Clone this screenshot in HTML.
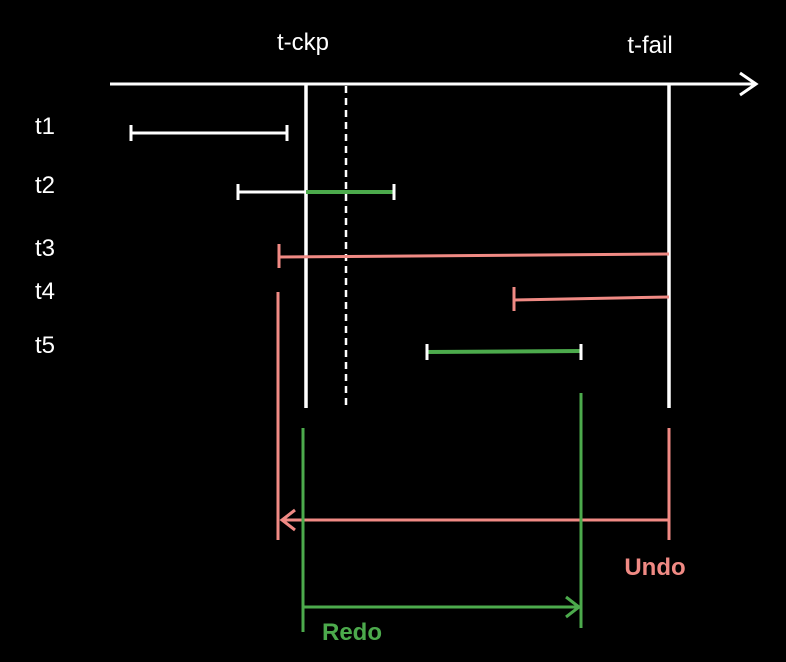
<!DOCTYPE html>
<html><head><meta charset="utf-8"><style>
html,body{margin:0;padding:0;background:#000;}
svg{display:block;}
text{font-family:"Liberation Sans",sans-serif;}
</style></head><body>
<svg id="chart" width="786" height="662" viewBox="0 0 786 662">
  <rect width="786" height="662" fill="#000"/>
  <g>
    <line x1="110" y1="84" x2="754" y2="84" stroke="#fff" stroke-width="3"/>
    <polyline points="740,73 756,84 740,95" fill="none" stroke="#fff" stroke-width="3"/>
  </g>
  <text x="303" y="50" font-size="24" fill="#fff" text-anchor="middle">t-ckp</text>
  <text x="650" y="53" font-size="24" fill="#fff" text-anchor="middle">t-fail</text>
  <line x1="306" y1="84" x2="306" y2="408" stroke="#fff" stroke-width="3.5"/>
  <line x1="346" y1="86" x2="346" y2="408" stroke="#fff" stroke-width="2.5" stroke-dasharray="7,5"/>
  <line x1="669" y1="84" x2="669" y2="408" stroke="#fff" stroke-width="3.5"/>
  <g id="txs"></g>
  <g>
    <line x1="278" y1="292" x2="278" y2="540" stroke="#f08a84" stroke-width="3"/>
    <line x1="669" y1="428" x2="669" y2="540" stroke="#f08a84" stroke-width="3"/>
    <line x1="282" y1="520" x2="669" y2="520" stroke="#f08a84" stroke-width="3"/>
    <polyline points="295,510 282,520 295,530" fill="none" stroke="#f08a84" stroke-width="3"/>
    <text x="655" y="575" font-size="24" font-weight="bold" fill="#f08a84" text-anchor="middle">Undo</text>
  </g>
  <g>
    <line x1="303" y1="428" x2="303" y2="632" stroke="#4caa4c" stroke-width="3"/>
    <line x1="581" y1="393" x2="581" y2="628" stroke="#4caa4c" stroke-width="3"/>
    <line x1="303" y1="607" x2="579" y2="607" stroke="#4caa4c" stroke-width="3"/>
    <polyline points="566,597 579,607 566,617" fill="none" stroke="#4caa4c" stroke-width="3"/>
    <text x="352" y="640" font-size="24" font-weight="bold" fill="#4caa4c" text-anchor="middle">Redo</text>
  </g>
</svg>
<script>
const txNames = ["t1","t2","t3","t4","t5"];
const txRowY = [133,192,255,298,352];
const txStart = [131,238,279,514,427];
const txEnd = [287,394,669,669,581];
const txType = ["white","split","undo","undo","redo"];
const ns="http://www.w3.org/2000/svg";
const g=document.getElementById('txs');
const W="#fff",R="#f08a84",G="#4caa4c";
function ln(x1,y1,x2,y2,c,w){const l=document.createElementNS(ns,'line');l.setAttribute('x1',x1);l.setAttribute('y1',y1);l.setAttribute('x2',x2);l.setAttribute('y2',y2);l.setAttribute('stroke',c);l.setAttribute('stroke-width',w);g.appendChild(l);return l;}
txNames.forEach((n,i)=>{
  const y=txRowY[i],a=txStart[i],b=txEnd[i],t=txType[i];
  const lab=document.createElementNS(ns,'text');
  lab.setAttribute('x',35);lab.setAttribute('y',y+1);lab.setAttribute('font-size',24);lab.setAttribute('fill','#fff');
  lab.textContent=n;
  
  
  g.appendChild(lab);
  let bar;
  if(t==="white"){bar=ln(a,y,b,y,W,3);ln(a,y-8,a,y+8,W,3);ln(b,y-8,b,y+8,W,3);}
  else if(t==="split"){ln(a,y,306,y,W,3);bar=ln(306,y,b,y,G,4);ln(a,y-8,a,y+8,W,3);ln(b,y-8,b,y+8,W,3);}
  else if(t==="undo"){bar=ln(a,y+2,b,y-1,R,3);ln(a,y-11,a,y+13,R,3);}
  else {bar=ln(a,y,b,y-1,G,4);ln(a,y-8,a,y+8,W,3);ln(b,y-8,b,y+8,W,3);}
  
  
});
</script>
</body></html>
